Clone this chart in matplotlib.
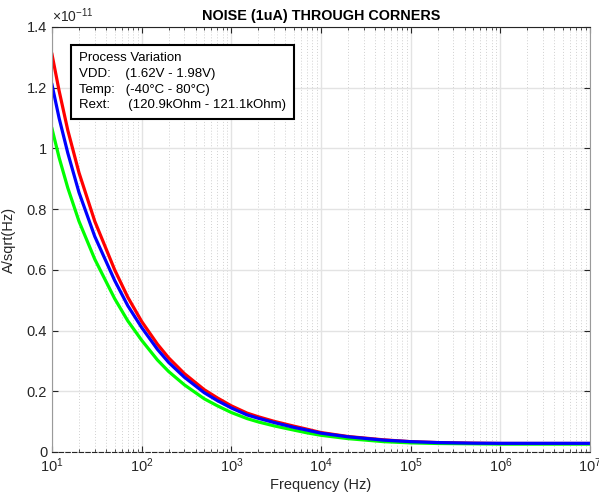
import numpy as np
import matplotlib
matplotlib.use("Agg")
import matplotlib.pyplot as plt
from matplotlib.ticker import LogLocator, FixedLocator, NullLocator

plt.rcParams['font.family'] = ['Liberation Sans', 'DejaVu Sans']
plt.rcParams['mathtext.fontset'] = 'custom'
plt.rcParams['mathtext.rm'] = 'Liberation Sans'
plt.rcParams['mathtext.it'] = 'Liberation Sans:italic'

# frequency points (Hz) and noise readings in units of 1e-11 A/sqrt(Hz)
freq = [10, 12, 15, 20, 30, 50, 70, 100, 150, 200, 300, 500, 700, 1e3, 1.5e3, 2e3,
        3e3, 5e3, 7e3, 1e4, 2e4, 5e4, 1e5, 2e5, 5e5, 1e6, 1e7]
noise_red = [1.31, 1.19, 1.06, 0.92, 0.76, 0.60, 0.51, 0.43, 0.355, 0.31, 0.258,
             0.205, 0.178, 0.152, 0.128, 0.116, 0.101, 0.085, 0.075, 0.064, 0.051,
             0.040, 0.034, 0.031, 0.029, 0.028, 0.028]
noise_blue = [1.21, 1.10, 0.985, 0.855, 0.71, 0.565, 0.482, 0.41, 0.338, 0.295,
              0.246, 0.195, 0.169, 0.145, 0.122, 0.111, 0.097, 0.081, 0.072, 0.062,
              0.050, 0.039, 0.034, 0.031, 0.029, 0.0285, 0.0285]
noise_green = [1.065, 0.97, 0.87, 0.76, 0.635, 0.505, 0.432, 0.368, 0.303, 0.265,
               0.221, 0.175, 0.152, 0.130, 0.110, 0.099, 0.086, 0.072, 0.063, 0.055,
               0.044, 0.034, 0.030, 0.028, 0.027, 0.026, 0.026]

yticks = [0, 0.2, 0.4, 0.6, 0.8, 1.0, 1.2, 1.4]
ytick_labels = ['0', '0.2', '0.4', '0.6', '0.8', '1', '1.2', '1.4']

info_text = ("Process Variation\n"
             "VDD:    (1.62V - 1.98V)\n"
             "Temp:   (-40\u00b0C - 80\u00b0C)\n"
             "Rext:     (120.9kOhm - 121.1kOhm)")

scale = 1e-11
fig = plt.figure(figsize=(5.99, 4.95), dpi=100)
ax = fig.add_axes([0.0868, 0.0869, 0.8982, 0.8586])

ax.plot(freq, np.array(noise_red) * scale, color=(1, 0, 0), lw=2.3)
ax.plot(freq, np.array(noise_green) * scale, color=(0, 1, 0), lw=2.3)
ax.plot(freq, np.array(noise_blue) * scale, color=(0, 0, 1), lw=2.3)

ax.set_xscale('log')
ax.set_xlim(10, 1e7)
ax.set_ylim(0, 1.4e-11)
ax.yaxis.set_major_locator(FixedLocator([v * scale for v in yticks]))
ax.set_yticklabels(ytick_labels)
ax.yaxis.set_minor_locator(NullLocator())
ax.xaxis.set_major_locator(LogLocator(base=10, numticks=10))
ax.xaxis.set_minor_locator(LogLocator(base=10, subs=np.arange(2, 10), numticks=100))

ax.grid(True, which='major', color='#e3e3e3', lw=1.0)
ax.grid(True, which='minor', axis='x', color='#d0d0d0', lw=0.7, linestyle=(0, (1, 2)))
ax.set_axisbelow(True)

ax.tick_params(which='both', direction='in', top=True, right=True, colors='#262626',
               labelsize=10.5, length=4)
ax.tick_params(which='minor', length=2.5)
for sp in ['left', 'right']:
    ax.spines[sp].set_color('#9a9a9a')
ax.spines['top'].set_color('#262626')
ax.spines['bottom'].set_color('#262626')
ax.spines['bottom'].set_linestyle((0, (4, 2)))

ax.set_xlabel('Frequency (Hz)', fontsize=10.5, color='#262626', labelpad=2)
ax.set_ylabel('A/sqrt(Hz)', fontsize=10.5, color='#262626', labelpad=8)
ax.set_title('NOISE (1uA) THROUGH CORNERS', fontsize=10.4, fontweight='bold', pad=5)

ax.text(0.0, 1.005, r'$\times10^{-11}$', transform=ax.transAxes, fontsize=10,
        color='#262626', ha='left', va='bottom')

ax.text(0.05, 0.94, info_text, transform=ax.transAxes, fontsize=9.5,
        va='top', ha='left', linespacing=1.4,
        bbox=dict(boxstyle='square,pad=0.6', facecolor='white',
                  edgecolor='black', lw=1.5))

fig.savefig('out.png', dpi=100)
